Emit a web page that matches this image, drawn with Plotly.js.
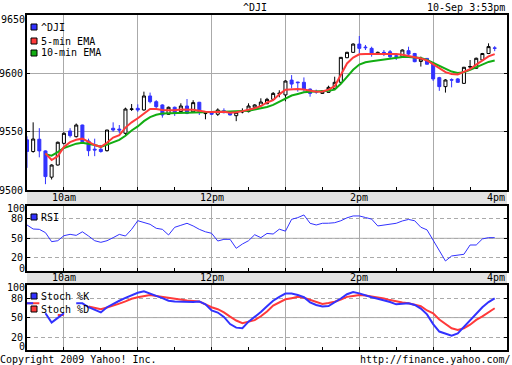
<!DOCTYPE html>
<html><head><meta charset="utf-8">
<script src="https://cdn.plot.ly/plotly-3.0.1.min.js"></script>
<style>html,body{margin:0;padding:0;background:#fff}#chart{width:512px;height:365px}</style>
</head><body><div id="chart"></div>
<script>
// ---- data (5-minute bars, 10-Sep-2009) ----
const day = '2009-09-10';
const firstBarMinute = 570;   // 9:30
const barMinutes = 5;
const symbol = '^DJI';
const stamp = '10-Sep 3:53pm';
const priceTicks = [9500, 9550, 9600];
const oscTicks = [0, 20, 50, 80];
const oscTickText = ['', '20', '50', '80'];
const sessionLabels = ['10am', '12pm', '2pm', '4pm'];
const sessionLabelTimes = ['10:00', '12:00', '14:00', '16:00'];

const open = [9543,9533,9543.5,9533.5,9511,9521.4,9540,9550.6,9545.7,9555.7,
9542,9535,9534.9,9533.7,9552.9,9552.2,9548.6,9569,9570,9568.6,
9580.6,9575.7,9572.9,9564.9,9570.9,9567.2,9572,9567,9575.2,9565.5,
9567.2,9564.9,9568,9566.6,9563.7,9566.9,9567.2,9570.9,9572.3,9574,
9577.7,9582.6,9581.5,9594.2,9592.5,9592.3,9586.5,9584.6,9582.8,9583.7,
9587.1,9592.3,9613.4,9618,9625.1,9622.5,9621.4,9616.2,9618,9618.5,
9615,9614.3,9619.4,9617,9610.2,9612.8,9608.6,9596.3,9588.6,9594.6,
9595.2,9591.4,9605.4,9604.3,9611.4,9617,9621.8];
const high = [9546,9558,9553,9534,9522,9541.5,9549.5,9553,9557,9556,
9544,9544,9538.6,9551.5,9558,9555.7,9570.6,9573.7,9573.4,9584.3,
9583.5,9577,9573.5,9571.5,9571.5,9574.3,9578,9577,9575.5,9567,
9567.5,9570,9570,9567,9567,9570,9574.3,9573.5,9578.6,9579,
9584,9585.5,9594,9598.5,9592.8,9596.5,9587,9586,9585.5,9589.4,
9597.1,9614,9618.5,9625.7,9632,9624.3,9622.8,9618.6,9620,9620,
9617,9620.5,9622.8,9617.5,9614.3,9613,9609,9597,9595,9595.7,
9596,9605.5,9611.4,9613.5,9617.5,9625.7,9623.3];
const low = [9519,9532,9528,9505,9509,9521,9539,9545,9545,9540,
9529,9529,9532,9533,9550,9548.6,9547,9567.7,9567,9568,
9574.3,9570,9562,9564.5,9563.5,9567,9565,9566.5,9564.3,9560.6,
9564.5,9563.5,9565.7,9564,9559,9565.7,9566.5,9570.5,9572,9573.5,
9577,9579.5,9576,9587.1,9584.3,9584.3,9580,9582.5,9582.5,9583.5,
9586.5,9592,9613,9617.5,9617,9620,9614.3,9616,9614.8,9612.8,
9611.4,9614,9615.7,9609.5,9605.8,9607.6,9593.5,9585,9583.5,9588,
9592,9591,9603,9604,9611,9616.5,9619];
const close = [9533,9543.7,9533.5,9511.5,9521.4,9540.9,9548.6,9546.6,9555.7,9541.4,
9533.7,9534.3,9533,9551.4,9551.4,9551.4,9569.4,9569.5,9568.6,9580.6,
9575.7,9571.4,9564.3,9570.9,9566.6,9572,9565.7,9574.9,9567.2,9565.8,
9564.9,9568.6,9566.3,9564.3,9566.6,9567.2,9572,9572.9,9575.4,9577.7,
9582.8,9582.9,9593.4,9590.8,9592,9586.5,9582.8,9584,9584.8,9588,
9592.3,9613.7,9618,9625.1,9621.4,9622,9616.5,9618,9617.7,9614.2,
9614.6,9620,9616.5,9610,9612.3,9607.8,9595.2,9588.6,9594.3,9594.2,
9592.3,9605.2,9605.8,9612.9,9617,9622.9,9621.5];
const ema5 = [null,null,null,9531.4,9525.7,9529,9537,9541,9543,9544,
9541,9538.5,9537,9540.5,9545,9547,9553.5,9558,9561.5,9565.5,
9569.5,9569.5,9568.5,9568.3,9568.3,9569,9569,9568.8,9568,9567,
9566.8,9567.2,9567,9566.3,9566.6,9567.6,9568.8,9570,9572,9575,
9577,9582,9586,9586.5,9586.5,9586.2,9585,9584.3,9584.5,9586,
9589,9598.5,9608.5,9613.5,9616.3,9616.5,9616.5,9616.5,9617,9617,
9616.5,9616,9615,9614.2,9612.8,9611,9608,9604.5,9601,9599.5,
9599,9601,9603.5,9607.5,9611,9614.5,9616.5];
const ema10 = [null,null,null,9530.6,9529.4,9532.5,9536,9537.8,9539.7,9540.5,
9539.8,9538.5,9537,9539,9541.5,9543,9546.5,9551,9554.5,9559,
9562.5,9564.5,9565.5,9565.7,9566,9566.3,9566.5,9566.6,9566.6,9566.6,
9566.8,9567,9567,9567.1,9567.2,9567.6,9568,9569,9570,9571.2,
9573,9575.5,9578.5,9581,9582.3,9583.7,9584.2,9584.3,9584.3,9585,
9586,9591,9597,9603,9607.5,9609.5,9610.3,9611,9611.8,9612.5,
9613.3,9614,9614,9613.8,9613.2,9611.4,9608.8,9606,9603.5,9601.5,
9600.3,9601,9603,9605.5,9607.8,9609.8,9611];
const rsi = [70.5,64.3,63.8,58.7,44.8,46.3,54,56.1,54.5,60,
53.5,46.3,43.8,46.3,51,56,53.5,63.8,77.1,74.6,
71.5,65.4,63.8,55.1,66.9,70,73.1,69,63.8,60,
57.7,45.8,48.4,48.4,34.6,41.2,46.3,55.5,51,57.5,
56.6,64,61,79.2,81.8,85.9,73.1,70.5,73.1,73.2,
74,77,81.5,84.4,84.4,82,79.5,69,70.5,72,
73.1,76.7,79,77,67,63,47,32,15.1,22.8,
24.4,25.4,39.7,39.7,49,51,51];
const stochK = [72,72,null,56.7,42.3,49.5,56.7,null,72,72,
66,62,58,66,71.5,76,80.5,85,88.4,90.5,
87.4,83.5,80,76,75,74.6,74,74,75,70.5,
61,57.8,51,40,34.5,33.6,43.8,50.5,58.5,67.5,
76,82,87,87,85,81.5,73.5,69.5,67,67.8,
73,79.5,86,89.5,87.4,84,81.5,79,77,74,
70.5,71.5,72,69.5,64,55,40,28.5,25,22,
25.5,36,46,56.7,66,74,79.7];
const stochD = [72,72,72,null,null,54,54,null,null,null,
67,65,63,65.5,68,71.5,75,79,81.5,83.5,
84.8,83.3,81.8,80,78.5,77,76.3,75.7,74.8,70.5,
66,63,58,51.5,45.5,41.5,43.5,46,52,59.5,
68.5,74,78.2,80,82,80.5,77,74,71,72.5,
74.5,78,82,83.5,84.8,84,82.8,81,79.5,77,
74.6,73.3,72.1,70,67.5,61,56.7,47,40,33.5,
31,33.5,39,46.4,52,58,64.4];

// ---- build ----
const pad = n => String(n).padStart(2, '0');
const times = open.map((_, i) => {
  const m = firstBarMinute + barMinutes * i;
  return day + ' ' + pad(Math.floor(m / 60)) + ':' + pad(m % 60);
});

const BLUE = '#3232ff', RED = '#ff3a3a', GREEN = '#12ad12', GRID = '#aaaaaa', BAND = '#e2e2e2';
const MONO = '"DejaVu Sans Mono", monospace';
const FONT = {family: MONO, size: 10, color: '#000'};

const traces = [
  {type: 'scatter', mode: 'lines', x: times, y: ema10, line: {color: GREEN, width: 2}, xaxis: 'x', yaxis: 'y', hoverinfo: 'skip'},
  {type: 'scatter', mode: 'lines', x: times, y: ema5, line: {color: RED, width: 2}, xaxis: 'x', yaxis: 'y', hoverinfo: 'skip'},
  {type: 'candlestick', x: times, open: open, high: high, low: low, close: close, xaxis: 'x', yaxis: 'y',
   whiskerwidth: 0,
   increasing: {line: {color: '#000', width: 1}, fillcolor: '#ffffff'},
   decreasing: {line: {color: BLUE, width: 1}, fillcolor: BLUE}},
  {type: 'scatter', mode: 'lines', x: times, y: rsi, line: {color: BLUE, width: 1}, xaxis: 'x2', yaxis: 'y2'},
  {type: 'scatter', mode: 'lines', x: times, y: stochD, line: {color: RED, width: 2}, xaxis: 'x3', yaxis: 'y3'},
  {type: 'scatter', mode: 'lines', x: times, y: stochK, line: {color: BLUE, width: 2}, xaxis: 'x3', yaxis: 'y3'}
];

const W = 512, H = 365, L = 27, R = 5, T = 15, B = 15;
const pw = W - L - R, ph = H - T - B;
const px = x => (x - L) / pw;          // pixel -> paper x
const py = y => (H - B - y) / ph;       // pixel -> paper y

const xBase = {
  type: 'date', range: [day + ' 09:30', day + ' 16:00'],
  tick0: day + ' 10:00', dtick: 3600000,
  showgrid: true, gridcolor: GRID, gridwidth: 1,
  showticklabels: false, ticks: 'inside', ticklen: 3, tickcolor: '#000', tickwidth: 1,
  minor: {tick0: day + ' 10:00', dtick: 1800000, ticks: 'inside', ticklen: 3, tickcolor: '#000', showgrid: false},
  showline: true, linecolor: '#000', linewidth: 2, mirror: true, zeroline: false, fixedrange: true
};
const yBase = {
  showgrid: true, gridcolor: GRID, gridwidth: 1, zeroline: false,
  ticks: 'inside', ticklen: 3, tickcolor: '#000', tickfont: FONT,
  showline: true, linecolor: '#000', linewidth: 2, mirror: 'ticks', fixedrange: true
};

const mainDom = [py(190), 1];
const rsiDom = [py(270.8), py(205.8)];
const stoDom = [0, py(285.2)];

const shapes = [
  {type: 'rect', xref: 'paper', yref: 'paper', x0: 0, x1: 1, y0: rsiDom[1], y1: mainDom[0], fillcolor: BAND, line: {width: 0}, layer: 'below'},
  {type: 'rect', xref: 'paper', yref: 'paper', x0: 0, x1: 1, y0: stoDom[1], y1: rsiDom[0], fillcolor: BAND, line: {width: 0}, layer: 'below'},
  {type: 'line', xref: 'x2 domain', x0: 0, x1: 1, yref: 'y2', y0: 50, y1: 50, line: {color: GRID, width: 1}, layer: 'below'},
  {type: 'line', xref: 'x3 domain', x0: 0, x1: 1, yref: 'y3', y0: 50, y1: 50, line: {color: GRID, width: 1}, layer: 'below'}
];
const sideLabel = (text, y) => ({text: text, xref: 'paper', yref: 'paper', x: px(26), y: py(y), xanchor: 'right', yanchor: 'middle',
  showarrow: false, font: FONT, borderpad: 0});
const annotations = [
  {text: symbol, xref: 'paper', yref: 'paper', x: px(255), y: py(8), xanchor: 'center', yanchor: 'middle', showarrow: false, font: FONT},
  {text: stamp, xref: 'paper', yref: 'paper', x: px(507), y: py(8), xanchor: 'right', yanchor: 'middle', showarrow: false, font: FONT},
  {text: 'Copyright 2009 Yahoo! Inc.', xref: 'paper', yref: 'paper', x: px(-1), y: py(359.5), xanchor: 'left', yanchor: 'middle', showarrow: false, font: FONT, borderpad: 0},
  {text: 'http://finance.yahoo.com/', xref: 'paper', yref: 'paper', x: px(512), y: py(359.5), xanchor: 'right', yanchor: 'middle', showarrow: false, font: FONT, borderpad: 0},
  sideLabel('9650', 19.5),
  sideLabel('100', 208.5),
  sideLabel('0', 268),
  sideLabel('100', 287.5),
  sideLabel('0', 346.5)
];
[197.5, 277.5].forEach(yb => {
  sessionLabels.forEach((lab, k) => {
    const last = k === sessionLabels.length - 1;
    annotations.push({text: lab, xref: 'x', yref: 'paper', x: day + ' ' + sessionLabelTimes[k], y: py(yb),
      xanchor: last ? 'right' : 'center', yanchor: 'middle', showarrow: false, font: FONT});
  });
});
// legends
const legendItems = [
  {label: symbol, color: BLUE, y: 27},
  {label: '5-min EMA', color: RED, y: 41},
  {label: '10-min EMA', color: GREEN, y: 53},
  {label: 'RSI', color: BLUE, y: 217},
  {label: 'Stoch %K', color: BLUE, y: 296},
  {label: 'Stoch %D', color: RED, y: 309}
];
legendItems.forEach(it => {
  shapes.push({type: 'rect', xref: 'paper', yref: 'paper', x0: px(31), x1: px(37), y0: py(it.y + 3), y1: py(it.y - 3),
    fillcolor: it.color, line: {color: '#000', width: 1}, layer: 'above'});
  annotations.push({text: it.label, xref: 'paper', yref: 'paper', x: px(38.5), y: py(it.y), xanchor: 'left', yanchor: 'middle', showarrow: false, font: FONT});
});

const layout = {
  width: W, height: H, margin: {l: L, r: R, t: T, b: B, pad: 0},
  paper_bgcolor: '#fff', plot_bgcolor: '#fff', showlegend: false, font: FONT,
  xaxis: Object.assign({}, xBase, {anchor: 'y', rangeslider: {visible: false}}),
  xaxis2: Object.assign({}, xBase, {anchor: 'y2'}),
  xaxis3: Object.assign({}, xBase, {anchor: 'y3'}),
  yaxis: Object.assign({}, yBase, {domain: mainDom, range: [9500, 9650], tickvals: priceTicks}),
  yaxis2: Object.assign({}, yBase, {domain: rsiDom, range: [0, 100], tickvals: oscTicks, ticktext: oscTickText, griddash: '4px,3px'}),
  yaxis3: Object.assign({}, yBase, {domain: stoDom, range: [0, 100], tickvals: oscTicks, ticktext: oscTickText, griddash: '4px,3px'}),
  shapes: shapes, annotations: annotations
};
Plotly.newPlot('chart', traces, layout, {displayModeBar: false, staticPlot: true});
</script></body></html>
